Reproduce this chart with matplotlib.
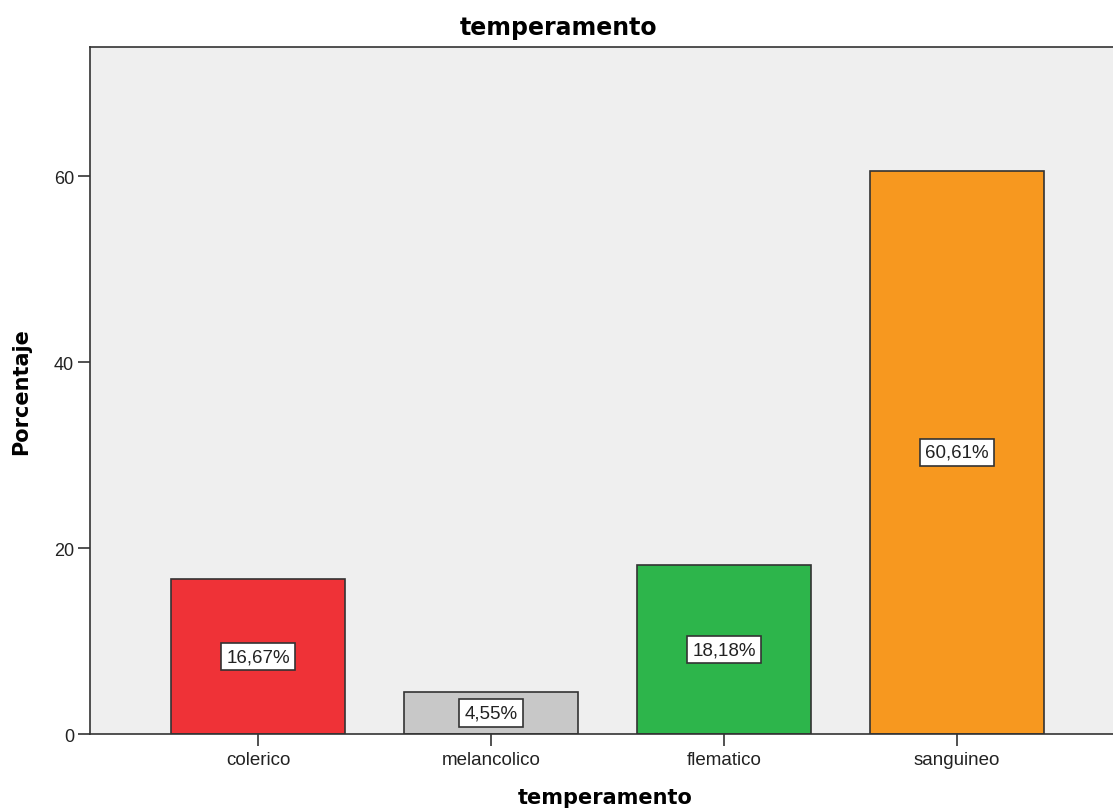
import matplotlib
matplotlib.use("Agg")
import matplotlib.pyplot as plt

categorias = ["colerico", "melancolico", "flematico", "sanguineo"]
porcentajes = [16.67, 4.55, 18.18, 60.61]
etiquetas = ["16,67%", "4,55%", "18,18%", "60,61%"]
colores = ["#EF3237", "#C8C8C8", "#2DB54B", "#F7981F"]

fig = plt.figure(figsize=(11.13, 8.12), dpi=100)
ax = fig.add_axes([0.0809, 0.0948, 0.925, 0.8461])
ax.set_facecolor("#EFEFEF")

x = range(len(categorias))
ax.bar(x, porcentajes, width=0.747, color=colores, edgecolor="#333333", linewidth=1.2, zorder=2)

# etiquetas en el centro de cada barra
for i, v in enumerate(porcentajes):
    ax.text(i, v / 2, etiquetas[i], ha="center", va="center", fontsize=13.5,
            family="Liberation Sans", color="#222222", zorder=3,
            bbox=dict(boxstyle="square,pad=0.28", fc="white", ec="#333333", lw=1.2))

ax.set_xlim(-0.721, 3.697)
ax.set_ylim(0, 73.9)
ax.set_yticks([0, 20, 40, 60])
ax.set_xticks(list(x))
ax.set_xticklabels(categorias)
ax.tick_params(axis="both", direction="out", length=8.5, width=1.2, color="#333333",
               labelcolor="#222222")
ax.tick_params(axis="x", labelsize=13.5, pad=3.5)
ax.tick_params(axis="y", labelsize=13, pad=3)
for lab in ax.get_xticklabels() + ax.get_yticklabels():
    lab.set_family("Liberation Sans")

for s in ["left", "bottom", "top"]:
    ax.spines[s].set_color("#333333")
    ax.spines[s].set_linewidth(1.2)
ax.spines["right"].set_visible(False)

fig.text(0.502, 0.9655, "temperamento", ha="center", va="center", fontsize=17,
         fontweight="bold", family="DejaVu Sans")
ax.set_xlabel("temperamento", fontsize=15, fontweight="bold", family="DejaVu Sans", labelpad=14)
ax.set_ylabel("Porcentaje", fontsize=15, fontweight="bold", family="DejaVu Sans", labelpad=16)

fig.savefig("out.png", dpi=100)
